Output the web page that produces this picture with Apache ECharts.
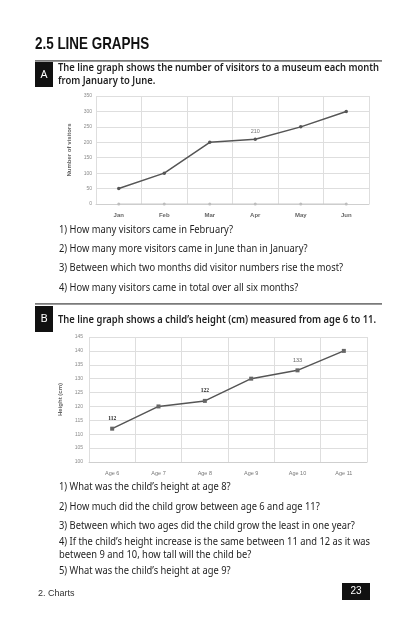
<!DOCTYPE html>
<html><head><meta charset="utf-8">
<script src="https://cdn.jsdelivr.net/npm/echarts@6/dist/echarts.min.js"></script>
<style>html,body{margin:0;padding:0;background:#fff;}#c{width:416px;height:624px;}</style>
</head><body><div id="c"></div>
<script>
const monthsA = ['Jan','Feb','Mar','Apr','May','Jun'];
const visitorsA = [50, 100, 200, 210, 250, 300];
const baselineA = [0, 0, 0, 0, 0, 0];
const labelIndexA = [3];
const agesB = ['Age 6','Age 7','Age 8','Age 9','Age 10','Age 11'];
const heightsB = [112, 120, 122, 130, 133, 140];
const boldLabelsB = [0, 2];
const plainLabelsB = [4];
const questionsA = [
  '1) How many visitors came in February?',
  '2) How many more visitors came in June than in January?',
  '3) Between which two months did visitor numbers rise the most?',
  '4) How many visitors came in total over all six months?'
];
const questionsB = [
  '1) What was the child\u2019s height at age 8?',
  '2) How much did the child grow between age 6 and age 11?',
  '3) Between which two ages did the child grow the least in one year?',
  '4) If the child\u2019s height increase is the same between 11 and 12 as it was',
  'between 9 and 10, how tall will the child be?',
  '5) What was the child\u2019s height at age 9?'
];

const BODY = '"Noto Sans", sans-serif';
const TXT = '#1f1f1f';
const qAy = [230, 249.5, 268.5, 288];
const qBy = [487, 507, 526, 542, 555.5, 571];

function txt(x, y, s, opt, sx) {
  return { type: 'text', x: x, y: y, scaleX: sx || 1, style: Object.assign({ text: s, fill: TXT, font: '10px ' + BODY, textVerticalAlign: 'middle', textAlign: 'left' }, opt || {}) };
}
const HEAD = { font: '600 10.4px ' + BODY };
const Q = { font: '10px ' + BODY };
const QSX = 0.935;
const graphics = [
  txt(35, 44, '2.5 LINE GRAPHS', { font: 'bold 17px "Liberation Sans", Arial, sans-serif', fill: '#111' }, 0.79),
  { type: 'rect', shape: { x: 35, y: 60, width: 347, height: 1.8 }, style: { fill: '#7a7a7a' } },
  { type: 'rect', shape: { x: 35, y: 62, width: 18, height: 25 }, style: { fill: '#111' } },
  txt(44, 74.5, 'A', { font: '11px ' + BODY, fill: '#fff', textAlign: 'center' }),
  txt(58, 68, 'The line graph shows the number of visitors to a museum each month', HEAD, 0.905),
  txt(58, 81.5, 'from January to June.', HEAD, 0.905),
  { type: 'rect', shape: { x: 35, y: 303, width: 347, height: 1.8 }, style: { fill: '#7a7a7a' } },
  { type: 'rect', shape: { x: 35, y: 306, width: 18, height: 26 }, style: { fill: '#111' } },
  txt(44, 319, 'B', { font: '11px ' + BODY, fill: '#fff', textAlign: 'center' }),
  txt(58, 320, 'The line graph shows a child\u2019s height (cm) measured from age 6 to 11.', HEAD, 0.905),
  txt(38, 594, '2. Charts', { font: '9px "Liberation Sans", Arial, sans-serif', fill: '#333' }),
  { type: 'rect', shape: { x: 342, y: 583, width: 28, height: 17 }, style: { fill: '#111' } },
  txt(356, 591.5, '23', { font: '10px "Liberation Sans", Arial, sans-serif', fill: '#fff', textAlign: 'center' })
];
questionsA.forEach((q, i) => graphics.push(txt(59, qAy[i], q, Q, QSX)));
questionsB.forEach((q, i) => graphics.push(txt(59, qBy[i], q, Q, QSX)));

const axisLbl = { color: '#8a8a8a', fontSize: 5, fontFamily: '"Liberation Sans", Arial' };
const catLbl = { color: '#666', fontSize: 6, fontWeight: 'bold', fontFamily: '"Liberation Sans", Arial', margin: 8 };
const gridLine = { show: true, lineStyle: { color: '#dedede', width: 1 } };

const option = {
  animation: false,
  backgroundColor: '#fff',
  graphic: graphics,
  grid: [
    { left: 96, right: 47, top: 96, bottom: 420 },
    { left: 89, right: 49, top: 337, bottom: 162 }
  ],
  xAxis: [
    { type: 'category', gridIndex: 0, data: monthsA, boundaryGap: true,
      axisLine: { show: true, lineStyle: { color: '#cfcfcf' } }, axisTick: { show: false },
      axisLabel: catLbl, splitLine: gridLine },
    { type: 'category', gridIndex: 1, data: agesB, boundaryGap: true,
      axisLine: { show: true, lineStyle: { color: '#cfcfcf' } }, axisTick: { show: false },
      axisLabel: Object.assign({}, catLbl, { fontWeight: 'normal', color: '#777', fontSize: 5.5 }), splitLine: gridLine }
  ],
  yAxis: [
    { type: 'value', gridIndex: 0, min: 0, max: 350, interval: 50,
      name: 'Number of visitors', nameLocation: 'middle', nameGap: 24,
      nameTextStyle: { color: '#666', fontSize: 6, fontWeight: 'bold', fontFamily: '"Liberation Sans", Arial' },
      axisLine: { show: false }, axisTick: { show: false }, axisLabel: Object.assign({}, axisLbl, { margin: 4 }), splitLine: gridLine },
    { type: 'value', gridIndex: 1, min: 100, max: 145, interval: 5,
      name: 'Height (cm)', nameLocation: 'middle', nameGap: 18,
      nameTextStyle: { color: '#666', fontSize: 6, fontWeight: 'bold', fontFamily: '"Liberation Sans", Arial' },
      axisLine: { show: false }, axisTick: { show: false }, axisLabel: Object.assign({}, axisLbl, { margin: 6 }), splitLine: gridLine }
  ],
  series: [
    { type: 'line', xAxisIndex: 0, yAxisIndex: 0, data: baselineA, symbol: 'circle', symbolSize: 3,
      lineStyle: { color: '#c8c8c8', width: 1 }, itemStyle: { color: '#bdbdbd' }, z: 1 },
    { type: 'line', xAxisIndex: 0, yAxisIndex: 0, symbol: 'circle', symbolSize: 3.5,
      lineStyle: { color: '#555', width: 1.5 }, itemStyle: { color: '#555' },
      data: visitorsA.map((v, i) => labelIndexA.includes(i)
        ? { value: v, label: { show: true, position: 'top', distance: 3, color: '#777', fontSize: 5.5, fontFamily: '"Liberation Sans", Arial' } }
        : v) },
    { type: 'line', xAxisIndex: 1, yAxisIndex: 1, symbol: 'rect', symbolSize: 4,
      lineStyle: { color: '#555', width: 1.5 }, itemStyle: { color: '#666' },
      data: heightsB.map((v, i) => boldLabelsB.includes(i)
        ? { value: v, label: { show: true, position: 'top', distance: 5, color: '#222', fontSize: 5.5, fontWeight: 'bold', fontFamily: '"Liberation Serif", serif' } }
        : plainLabelsB.includes(i)
        ? { value: v, label: { show: true, position: 'top', distance: 5, color: '#666', fontSize: 5.5, fontFamily: '"Liberation Sans", Arial' } }
        : v) }
  ]
};
const chart = echarts.init(document.getElementById('c'), null, { renderer: 'canvas' });
chart.setOption(option);
</script>
</body></html>
